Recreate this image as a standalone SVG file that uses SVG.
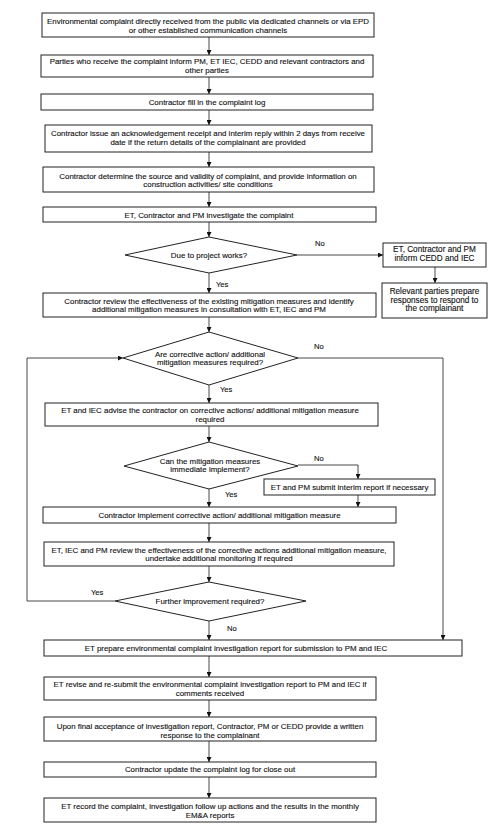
<svg xmlns="http://www.w3.org/2000/svg" width="496" height="840" viewBox="0 0 496 840">
<defs>
<marker id="ah" viewBox="0 0 10 10" refX="10" refY="5" markerWidth="5" markerHeight="5" orient="auto" markerUnits="userSpaceOnUse">
<path d="M0,0 L10,5 L0,10 Z" fill="#111"/>
</marker>
<style>
.box{fill:#fff;stroke:#222;stroke-width:1}
.t{font-family:"Liberation Sans",Arial,sans-serif;font-size:7.9px;fill:#111;stroke:#111;stroke-width:0.12;text-anchor:middle}
.s{font-size:8.2px}
.lbl{font-family:"Liberation Sans",Arial,sans-serif;font-size:7.6px;fill:#111;stroke:#111;stroke-width:0.12}
.c{fill:none;stroke:#333;stroke-width:0.9}
.a{marker-end:url(#ah)}
</style>
</defs>
<rect width="496" height="840" fill="#fff"/>
<g id="connectors">
<path class="c a" d="M209,37 V55"/>
<path class="c a" d="M209,77 V94"/>
<path class="c a" d="M209,110 V125"/>
<path class="c a" d="M209,152 V167"/>
<path class="c a" d="M209,192 V207"/>
<path class="c a" d="M209,222 V237"/>
<path class="c a" d="M209,273 V293"/>
<path class="c a" d="M209,317 V332"/>
<path class="c a" d="M209,385 V403"/>
<path class="c a" d="M209,426 V442"/>
<path class="c a" d="M209,489 V507"/>
<path class="c a" d="M209,523 V542"/>
<path class="c a" d="M209,566 V582"/>
<path class="c a" d="M209,621 V640"/>
<path class="c a" d="M209,656 V677"/>
<path class="c a" d="M209,700 V717"/>
<path class="c a" d="M209,741 V762"/>
<path class="c a" d="M209,777 V798"/>
<path class="c a" d="M297,255 H383"/>
<path class="c a" d="M435,267 V283"/>
<path class="c a" d="M298,358 H443 V640"/>
<path class="c a" d="M298,465 H358 V479"/>
<path class="c a" d="M358,495 V507"/>
<path class="c a" d="M115,601 H27 V358 H123"/>
<text class="lbl" x="216" y="287">Yes</text>
<text class="lbl" x="315" y="246">No</text>
<text class="lbl" x="314" y="349">No</text>
<text class="lbl" x="220" y="392">Yes</text>
<text class="lbl" x="314" y="461">No</text>
<text class="lbl" x="225" y="497">Yes</text>
<text class="lbl" x="91" y="595">Yes</text>
<text class="lbl" x="227" y="631">No</text>
</g>
<g id="n1"><rect class="box" x="42" y="13" width="332" height="24"/>
<text class="t" x="208" y="23.5">Environmental complaint directly received from the public via dedicated channels or via EPD</text>
<text class="t" x="208" y="32.5">or other established communication channels</text></g>
<g id="n2"><rect class="box" x="41" y="55" width="332" height="22"/>
<text class="t" x="207" y="63.5">Parties who receive the complaint inform PM, ET IEC, CEDD and relevant contractors and</text>
<text class="t" x="207" y="72.5">other parties</text></g>
<g id="n3"><rect class="box" x="41" y="94" width="332" height="16"/>
<text class="t" x="207" y="104.8">Contractor fill in the complaint log</text></g>
<g id="n4"><rect class="box" x="45" y="125" width="327" height="27"/>
<text class="t" x="208" y="135.5">Contractor issue an acknowledgement receipt and interim reply within 2 days from receive</text>
<text class="t" x="208" y="144.5">date if the return details of the complainant are provided</text></g>
<g id="n5"><rect class="box" x="43" y="167" width="331" height="25"/>
<text class="t" x="208" y="178.5">Contractor determine the source and validity of complaint, and provide information on</text>
<text class="t" x="208" y="187">construction activities/ site conditions</text></g>
<g id="n6"><rect class="box" x="43" y="207" width="333" height="15"/>
<text class="t" x="209" y="217.5">ET, Contractor and PM investigate the complaint</text></g>
<g id="d1"><polygon class="box" points="209,237 297,255 209,273 125,255"/>
<text class="t" x="209" y="257.8">Due to project works?</text></g>
<g id="r1"><rect class="box" x="383" y="243" width="103" height="24"/>
<text class="t s" x="434.5" y="252.3">ET, Contractor and PM</text>
<text class="t s" x="434.5" y="261.3">inform CEDD and IEC</text></g>
<g id="r2"><rect class="box" x="382" y="283" width="105" height="35"/>
<text class="t s" x="434.5" y="294">Relevant parties prepare</text>
<text class="t s" x="434.5" y="302.5">responses to respond to</text>
<text class="t s" x="434.5" y="311">the complainant</text></g>
<g id="n7"><rect class="box" x="43" y="293" width="333" height="24"/>
<text class="t" x="209" y="303.5">Contractor review the effectiveness of the existing mitigation measures and identify</text>
<text class="t" x="209" y="312">additional mitigation measures in consultation with ET, IEC and PM</text></g>
<g id="d2"><polygon class="box" points="209,332 298,358 209,385 123,358"/>
<text class="t" x="210" y="356.5">Are corrective action/ additional</text>
<text class="t" x="210" y="364.8">mitigation measures required?</text></g>
<g id="n8"><rect class="box" x="45" y="403" width="333" height="23"/>
<text class="t" x="210" y="412.5">ET and IEC advise the contractor on corrective actions/ additional mitigation measure</text>
<text class="t" x="210" y="421.5">required</text></g>
<g id="d3"><polygon class="box" points="209,442 298,466 209,489 124,466"/>
<text class="t" x="210" y="463.5">Can the mitigation measures</text>
<text class="t" x="210" y="471.8">immediate implement?</text></g>
<g id="n9"><rect class="box" x="264" y="479" width="171" height="16"/>
<text class="t" x="349.5" y="490">ET and PM submit interim report if necessary</text></g>
<g id="n10"><rect class="box" x="43" y="507" width="353" height="16"/>
<text class="t" x="219.5" y="518">Contractor implement corrective action/ additional mitigation measure</text></g>
<g id="n11"><rect class="box" x="44" y="542" width="350" height="24"/>
<text class="t" x="219" y="552.5">ET, IEC and PM review the effectiveness of the corrective actions additional mitigation measure,</text>
<text class="t" x="219" y="561">undertake additional monitoring if required</text></g>
<g id="d4"><polygon class="box" points="209,582 306,601 209,621 115,601"/>
<text class="t" x="210" y="603.8">Further improvement required?</text></g>
<g id="n12"><rect class="box" x="44" y="640" width="418" height="16"/>
<text class="t" x="236" y="650.8">ET prepare environmental complaint investigation report for submission to PM and IEC</text></g>
<g id="n13"><rect class="box" x="44" y="677" width="332" height="23"/>
<text class="t" x="210" y="686.5">ET revise and re-submit the environmental complaint investigation report to PM and IEC if</text>
<text class="t" x="210" y="695.5">comments received</text></g>
<g id="n14"><rect class="box" x="44" y="717" width="332" height="24"/>
<text class="t" x="210" y="728.5">Upon final acceptance of investigation report, Contractor, PM or CEDD provide a written</text>
<text class="t" x="210" y="737.5">response to the complainant</text></g>
<g id="n15"><rect class="box" x="44" y="762" width="332" height="15"/>
<text class="t" x="210" y="772">Contractor update the complaint log for close out</text></g>
<g id="n16"><rect class="box" x="44" y="798" width="332" height="24"/>
<text class="t" x="210" y="809">ET record the complaint, investigation follow up actions and the results in the monthly</text>
<text class="t" x="210" y="817.5">EM&amp;A reports</text></g>
</svg>
